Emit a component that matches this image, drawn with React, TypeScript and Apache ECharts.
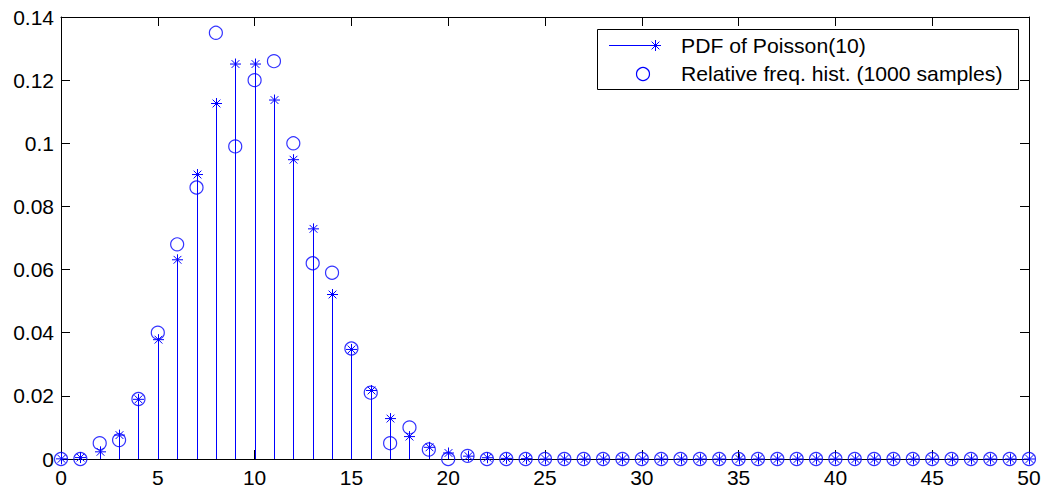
import React, { useEffect, useRef } from "react";
import * as echarts from "echarts";

const xValues: number[] = Array.from({ length: 51 }, (_, i) => i);

const pdfValues: number[] = [
  0.0000454, 0.000454, 0.00227, 0.00757, 0.0189, 0.0378, 0.0631, 0.0901, 0.1126, 0.1251,
  0.1251, 0.1137, 0.0948, 0.0729, 0.0521, 0.0347, 0.0217, 0.0128, 0.0071, 0.0037,
  0.0019, 0.0009, 0.0004, 0.0002, 0.0001, 0, 0, 0, 0, 0,
  0, 0, 0, 0, 0, 0, 0, 0, 0, 0,
  0, 0, 0, 0, 0, 0, 0, 0, 0, 0, 0,
];

const histValues: number[] = [
  0, 0, 0.005, 0.006, 0.019, 0.04, 0.068, 0.086, 0.135, 0.099,
  0.12, 0.126, 0.1, 0.062, 0.059, 0.035, 0.021, 0.005, 0.01, 0.003,
  0, 0.001, 0, 0, 0, 0, 0, 0, 0, 0,
  0, 0, 0, 0, 0, 0, 0, 0, 0, 0,
  0, 0, 0, 0, 0, 0, 0, 0, 0, 0, 0,
];

const legendLabels: string[] = ["PDF of Poisson(10)", "Relative freq. hist. (1000 samples)"];

const BLUE = "#0000ff";
const FONT = "'Liberation Sans', Arial, Helvetica, sans-serif";

function asteriskLines(cx: number, cy: number, r: number, lw: number) {
  const d = r * 0.7071;
  const segs = [
    [cx - r, cy, cx + r, cy],
    [cx, cy - r, cx, cy + r],
    [cx - d, cy - d, cx + d, cy + d],
    [cx - d, cy + d, cx + d, cy - d],
  ];
  return segs.map((s) => ({
    type: "line",
    shape: { x1: s[0], y1: s[1], x2: s[2], y2: s[3] },
    style: { stroke: BLUE, lineWidth: lw },
    silent: true,
  }));
}

export default function App() {
  const ref = useRef<HTMLDivElement>(null);

  useEffect(() => {
    if (!ref.current) return;
    const chart = echarts.init(ref.current, undefined, { renderer: "svg" });

    const axisLabelStyle = { color: "#000", fontSize: 21, fontFamily: FONT };

    const option: any = {
      animation: false,
      backgroundColor: "#fff",
      grid: { left: 61, right: 16, top: 17, bottom: 30, containLabel: false },
      xAxis: [
        {
          type: "value",
          min: 0,
          max: 50,
          interval: 5,
          position: "bottom",
          axisLine: { show: true, onZero: false, lineStyle: { color: "#000", width: 1 } },
          axisTick: { show: true, inside: true, length: 9, lineStyle: { color: "#000" } },
          axisLabel: { ...axisLabelStyle, margin: 8 },
          splitLine: { show: false },
        },
        {
          type: "value",
          min: 0,
          max: 50,
          interval: 5,
          position: "top",
          axisLine: { show: true, onZero: false, lineStyle: { color: "#000", width: 1 } },
          axisTick: { show: true, inside: true, length: 9, lineStyle: { color: "#000" } },
          axisLabel: { show: false },
          splitLine: { show: false },
        },
      ],
      yAxis: [
        {
          type: "value",
          min: 0,
          max: 0.14,
          interval: 0.02,
          position: "left",
          axisLine: { show: true, onZero: false, lineStyle: { color: "#000", width: 1 } },
          axisTick: { show: true, inside: true, length: 9, lineStyle: { color: "#000" } },
          axisLabel: {
            ...axisLabelStyle,
            margin: 7,
            formatter: (v: number) => String(parseFloat(v.toFixed(2))),
          },
          splitLine: { show: false },
        },
        {
          type: "value",
          min: 0,
          max: 0.14,
          interval: 0.02,
          position: "right",
          axisLine: { show: true, onZero: false, lineStyle: { color: "#000", width: 1 } },
          axisTick: { show: true, inside: true, length: 9, lineStyle: { color: "#000" } },
          axisLabel: { show: false },
          splitLine: { show: false },
        },
      ],
      series: [
        {
          name: legendLabels[0],
          type: "custom",
          xAxisIndex: 0,
          yAxisIndex: 0,
          data: xValues.map((x, i) => [x, pdfValues[i]]),
          renderItem: (params: any, api: any) => {
            const x = api.value(0);
            const y = api.value(1);
            const p0 = api.coord([x, 0]);
            const p1 = api.coord([x, y]);
            const sx = Math.round(p1[0]) + 0.5;
            return {
              type: "group",
              children: [
                {
                  type: "line",
                  shape: { x1: sx, y1: p0[1], x2: sx, y2: p1[1] },
                  style: { stroke: BLUE, lineWidth: 1 },
                },
                ...asteriskLines(sx, p1[1], 5.5, 1),
              ],
            };
          },
          z: 3,
        },
        {
          name: legendLabels[1],
          type: "scatter",
          xAxisIndex: 0,
          yAxisIndex: 0,
          data: xValues.map((x, i) => [x, histValues[i]]),
          symbol: "circle",
          symbolSize: 13,
          itemStyle: { color: "rgba(0,0,0,0)", borderColor: BLUE, borderWidth: 1.2 },
          z: 4,
        },
      ],
      graphic: [
        {
          type: "group",
          z: 100,
          children: [
            {
              type: "rect",
              shape: { x: 597.5, y: 29.5, width: 421, height: 60 },
              style: { fill: "#fff", stroke: "#000", lineWidth: 1 },
            },
            {
              type: "line",
              shape: { x1: 609, y1: 45.5, x2: 655, y2: 45.5 },
              style: { stroke: BLUE, lineWidth: 1 },
            },
            ...asteriskLines(655.5, 45.5, 5.5, 1),
            {
              type: "circle",
              shape: { cx: 643, cy: 74, r: 6.5 },
              style: { fill: "none", stroke: BLUE, lineWidth: 1.2 },
            },
            {
              type: "text",
              x: 681,
              y: 45.5,
              scaleX: 1.06,
              style: {
                text: legendLabels[0],
                fill: "#000",
                fontSize: 20,
                fontFamily: FONT,
                verticalAlign: "middle",
                align: "left",
              },
            },
            {
              type: "text",
              x: 681,
              y: 74,
              scaleX: 1.06,
              style: {
                text: legendLabels[1],
                fill: "#000",
                fontSize: 20,
                fontFamily: FONT,
                verticalAlign: "middle",
                align: "left",
              },
            },
          ],
        },
      ],
    };

    chart.setOption(option);
    return () => chart.dispose();
  }, []);

  return (
    <div
      ref={ref}
      style={{ position: "absolute", left: 0, top: 0, width: 1045, height: 489 }}
    />
  );
}
